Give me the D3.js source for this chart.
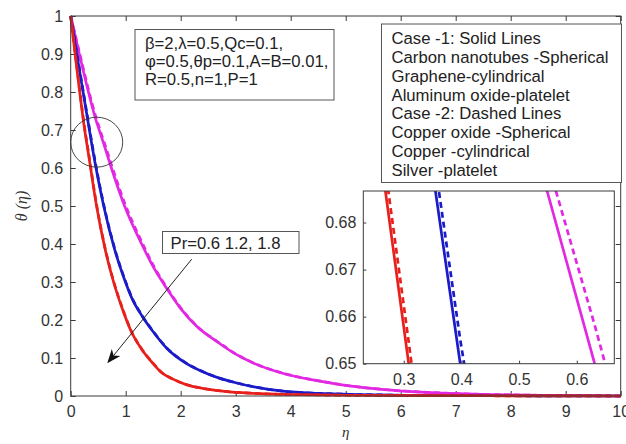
<!DOCTYPE html>
<html>
<head>
<meta charset="utf-8">
<script src="https://cdn.jsdelivr.net/npm/d3@7"></script>
<style>
  html, body { margin: 0; padding: 0; background: #fff; }
  svg { display: block; }
  text { font-family: "Liberation Sans", Arial, sans-serif; }
</style>
</head>
<body>
<script>
// ---------------- DATA ----------------
// Pr = 1.8 (red)
const etaRed = [0, 0.08, 0.2683, 0.3087, 0.47, 0.62, 0.78, 0.95, 1.11, 1.28, 1.5, 1.65, 1.85, 2.1, 2.4, 2.8, 3.3, 4.0, 5.0, 6.5, 8, 10];
const thetaRedCase1 = [1, 0.9, 0.6867, 0.65, 0.5, 0.39, 0.3, 0.225, 0.167, 0.125, 0.085, 0.062, 0.045, 0.03, 0.02, 0.012, 0.007, 0.004, 0.002, 0.001, 0.0005, 0];
const thetaRedCase2 = [1, 0.904, 0.6913, 0.6546, 0.504, 0.393, 0.302, 0.227, 0.168, 0.126, 0.086, 0.0625, 0.0453, 0.0302, 0.0201, 0.0121, 0.0071, 0.004, 0.002, 0.001, 0.0005, 0];
// Pr = 1.2 (blue)
const etaBlue = [0, 0.11, 0.355, 0.398, 0.6, 0.8, 0.97, 1.12, 1.3, 1.5, 1.75, 2.1, 2.4, 2.7, 3.0, 3.3, 3.9, 4.5, 5.2, 6, 7, 8.5, 10];
const thetaBlueCase1 = [1, 0.9, 0.6867, 0.65, 0.5, 0.385, 0.31, 0.255, 0.21, 0.169, 0.125, 0.086, 0.064, 0.047, 0.035, 0.025, 0.012, 0.007, 0.004, 0.002, 0.001, 0.0005, 0];
const thetaBlueCase2 = [1, 0.904, 0.6918, 0.6551, 0.504, 0.388, 0.312, 0.257, 0.211, 0.17, 0.126, 0.0865, 0.0643, 0.0472, 0.0352, 0.0251, 0.0121, 0.0071, 0.004, 0.002, 0.001, 0.0005, 0];
// Pr = 0.6 (magenta)
const etaMagenta = [0, 0.157, 0.46, 0.5485, 0.631, 0.74, 0.98, 1.29, 1.52, 1.75, 2.0, 2.3, 2.7, 3.0, 3.3, 3.9, 4.5, 5.1, 5.7, 6.3, 6.9, 7.6, 8.5, 10];
const thetaMagentaCase1 = [1, 0.9, 0.726, 0.6867, 0.65, 0.6, 0.5, 0.4, 0.335, 0.282, 0.23, 0.182, 0.139, 0.11, 0.088, 0.058, 0.04, 0.026, 0.017, 0.011, 0.007, 0.004, 0.002, 0];
const thetaMagentaCase2 = [1, 0.905, 0.733, 0.6932, 0.6582, 0.609, 0.508, 0.406, 0.339, 0.285, 0.232, 0.1835, 0.14, 0.111, 0.0885, 0.0583, 0.0402, 0.0261, 0.0171, 0.011, 0.007, 0.004, 0.002, 0];

const xTicks = [0, 1, 2, 3, 4, 5, 6, 7, 8, 9, 10];
const xTickLabels = ["0", "1", "2", "3", "4", "5", "6", "7", "8", "9", "10"];
const yTicks = [0, 0.1, 0.2, 0.3, 0.4, 0.5, 0.6, 0.7, 0.8, 0.9, 1];
const yTickLabels = ["0", "0.1", "0.2", "0.3", "0.4", "0.5", "0.6", "0.7", "0.8", "0.9", "1"];
const insetXTicks = [0.3, 0.4, 0.5, 0.6];
const insetXTickLabels = ["0.3", "0.4", "0.5", "0.6"];
const insetYTicks = [0.65, 0.66, 0.67, 0.68];
const insetYTickLabels = ["0.65", "0.66", "0.67", "0.68"];

const paramLines = ["β=2,λ=0.5,Qc=0.1,", "φ=0.5,θp=0.1,A=B=0.01,", "R=0.5,n=1,P=1"];
const legendLines = ["Case -1: Solid Lines", "Carbon nanotubes -Spherical", "Graphene-cylindrical",
  "Aluminum oxide-platelet", "Case -2: Dashed Lines", "Copper oxide -Spherical",
  "Copper -cylindrical", "Silver -platelet"];
const prLabel = "Pr=0.6 1.2, 1.8";

// ---------------- SETUP ----------------
const W = 626, H = 444;
const svg = d3.select("body").append("svg").attr("width", W).attr("height", H);

const COL = { red: "#e8201c", blue: "#1b1bc8", magenta: "#e228e2" };
const series = [
  { eta: etaMagenta, t1: thetaMagentaCase1, t2: thetaMagentaCase2, color: COL.magenta },
  { eta: etaBlue, t1: thetaBlueCase1, t2: thetaBlueCase2, color: COL.blue },
  { eta: etaRed, t1: thetaRedCase1, t2: thetaRedCase2, color: COL.red }
];

const axisColor = "#3a3a3a";
const labelColor = "#333";
const TICKFS = 16, TEXTFS = 16.7;

// main axes
const mL = 70.7, mR = 620.7, mT = 16, mB = 396;
const x = d3.scaleLinear().domain([0, 10]).range([mL, mR]);
const y = d3.scaleLinear().domain([0, 1]).range([mB, mT]);

svg.append("rect").attr("x", mL).attr("y", mT).attr("width", mR - mL).attr("height", mB - mT)
  .attr("fill", "#fff");

function styleAxis(g, fs) {
  g.select(".domain").remove();
  g.selectAll("line").attr("stroke", axisColor).attr("stroke-width", 1);
  g.selectAll("text").attr("fill", labelColor).style("font-size", fs + "px")
    .style("font-family", '"Liberation Sans", Arial, sans-serif');
}

const tk = 5;
svg.append("g").attr("transform", `translate(0,${mB})`)
  .call(d3.axisBottom(x).tickValues(xTicks).tickFormat((d, i) => xTickLabels[i]).tickSizeInner(-tk).tickSizeOuter(0).tickPadding(10))
  .call(g => styleAxis(g, TICKFS));
svg.append("g").attr("transform", `translate(0,${mT})`)
  .call(d3.axisTop(x).tickValues(xTicks).tickFormat("").tickSizeInner(-tk).tickSizeOuter(0))
  .call(g => styleAxis(g, TICKFS));
svg.append("g").attr("transform", `translate(${mL},0)`)
  .call(d3.axisLeft(y).tickValues(yTicks).tickFormat((d, i) => yTickLabels[i]).tickSizeInner(-tk).tickSizeOuter(0).tickPadding(7.5))
  .call(g => styleAxis(g, TICKFS));
svg.append("g").attr("transform", `translate(${mR},0)`)
  .call(d3.axisRight(y).tickValues(yTicks).tickFormat("").tickSizeInner(-tk).tickSizeOuter(0))
  .call(g => styleAxis(g, TICKFS));

// curves
const lineMain = (eta) => d3.line().x((d, i) => x(eta[i])).y(d => y(d)).curve(d3.curveMonotoneX);
const gCurves = svg.append("g");
series.forEach(s => {
  gCurves.append("path").attr("d", lineMain(s.eta)(s.t1)).attr("fill", "none")
    .attr("stroke", s.color).attr("stroke-width", 2.7).attr("stroke-linejoin", "round");
  gCurves.append("path").attr("d", lineMain(s.eta)(s.t2)).attr("fill", "none")
    .attr("stroke", s.color).attr("stroke-width", 2.7).attr("stroke-dasharray", "6,4");
});

// box
svg.append("rect").attr("x", mL).attr("y", mT).attr("width", mR - mL).attr("height", mB - mT)
  .attr("fill", "none").attr("stroke", axisColor).attr("stroke-width", 1);

// axis labels
svg.append("text").attr("transform", `translate(27,${(mT + mB) / 2}) rotate(-90)`)
  .attr("text-anchor", "middle").style("font-family", '"Liberation Serif", "DejaVu Serif", serif')
  .style("font-style", "italic").style("font-size", "16px").attr("fill", "#333").text("θ (η)");
svg.append("text").attr("x", (mL + mR) / 2).attr("y", 437).attr("text-anchor", "middle")
  .style("font-family", '"Liberation Serif", "DejaVu Serif", serif')
  .style("font-style", "italic").style("font-size", "15px").attr("fill", "#333").text("η");

// circle annotation (around the zoomed region)
svg.append("ellipse").attr("cx", x(0.473)).attr("cy", y(0.668)).attr("rx", 26).attr("ry", 25)
  .attr("fill", "none").attr("stroke", "#333").attr("stroke-width", 0.9);

// parameter box
const pb = svg.append("g");
pb.append("rect").attr("x", 135).attr("y", 29.5).attr("width", 199).attr("height", 70.5)
  .attr("fill", "#fff").attr("stroke", "#555").attr("stroke-width", 1);
paramLines.forEach((t, i) => pb.append("text").attr("x", 145).attr("y", 48.5 + i * 18)
  .style("font-size", TEXTFS + "px").attr("fill", "#222").text(t));

// legend box
const lb = svg.append("g");
lb.append("rect").attr("x", 381.5).attr("y", 24).attr("width", 240).attr("height", 158.5)
  .attr("fill", "#fff").attr("stroke", "#555").attr("stroke-width", 1);
legendLines.forEach((t, i) => lb.append("text").attr("x", 391.5).attr("y", 43.8 + i * 18.9)
  .style("font-size", TEXTFS + "px").attr("fill", "#222").text(t));

// Pr box and arrow
svg.append("rect").attr("x", 162.5).attr("y", 231.5).attr("width", 136.5).attr("height", 22)
  .attr("fill", "#fff").attr("stroke", "#555").attr("stroke-width", 1);
svg.append("text").attr("x", 170.5).attr("y", 249).style("font-size", TEXTFS + "px").attr("fill", "#222").text(prLabel);

const a0 = [x(2.2), y(0.36)], a1 = [x(0.665), y(0.086)];
const ang = Math.atan2(a1[1] - a0[1], a1[0] - a0[0]);
const hl = 14, hw = 5.5, back = 10;
const ux = Math.cos(ang), uy = Math.sin(ang);
const px = -uy, py = ux;
const baseC = [a1[0] - ux * hl, a1[1] - uy * hl];
const notch = [a1[0] - ux * back, a1[1] - uy * back];
svg.append("line").attr("x1", a0[0]).attr("y1", a0[1]).attr("x2", notch[0]).attr("y2", notch[1])
  .attr("stroke", "#222").attr("stroke-width", 1);
svg.append("path").attr("d", d3.line()([
  a1, [baseC[0] + px * hw, baseC[1] + py * hw], notch, [baseC[0] - px * hw, baseC[1] - py * hw]
]) + "Z").attr("fill", "#111");

// ---------------- INSET ----------------
const iL = 363.3, iR = 614.3, iT = 191, iB = 363.7;
const xi = d3.scaleLinear().domain([0.23, 0.665]).range([iL, iR]);
const yi = d3.scaleLinear().domain([0.65, 0.6867]).range([iB, iT]);
svg.append("rect").attr("x", iL).attr("y", iT).attr("width", iR - iL).attr("height", iB - iT).attr("fill", "#fff");
svg.append("clipPath").attr("id", "insetClip").append("rect")
  .attr("x", iL).attr("y", iT).attr("width", iR - iL).attr("height", iB - iT);
const gi = svg.append("g").attr("clip-path", "url(#insetClip)");
const lineInset = (eta) => d3.line().x((d, i) => xi(eta[i])).y(d => yi(d));
series.forEach(s => {
  gi.append("path").attr("d", lineInset(s.eta)(s.t1)).attr("fill", "none")
    .attr("stroke", s.color).attr("stroke-width", 2.7);
  gi.append("path").attr("d", lineInset(s.eta)(s.t2)).attr("fill", "none")
    .attr("stroke", s.color).attr("stroke-width", 2.7).attr("stroke-dasharray", "6,4");
});
const itk = 3;
svg.append("g").attr("transform", `translate(0,${iB})`)
  .call(d3.axisBottom(xi).tickValues(insetXTicks).tickFormat((d, i) => insetXTickLabels[i]).tickSizeInner(-itk).tickSizeOuter(0).tickPadding(9.5))
  .call(g => styleAxis(g, TICKFS));
svg.append("g").attr("transform", `translate(${iL},0)`)
  .call(d3.axisLeft(yi).tickValues(insetYTicks).tickFormat((d, i) => insetYTickLabels[i]).tickSizeInner(-itk).tickSizeOuter(0).tickPadding(7))
  .call(g => styleAxis(g, TICKFS));
svg.append("rect").attr("x", iL).attr("y", iT).attr("width", iR - iL).attr("height", iB - iT)
  .attr("fill", "none").attr("stroke", axisColor).attr("stroke-width", 1);
</script>
</body>
</html>
